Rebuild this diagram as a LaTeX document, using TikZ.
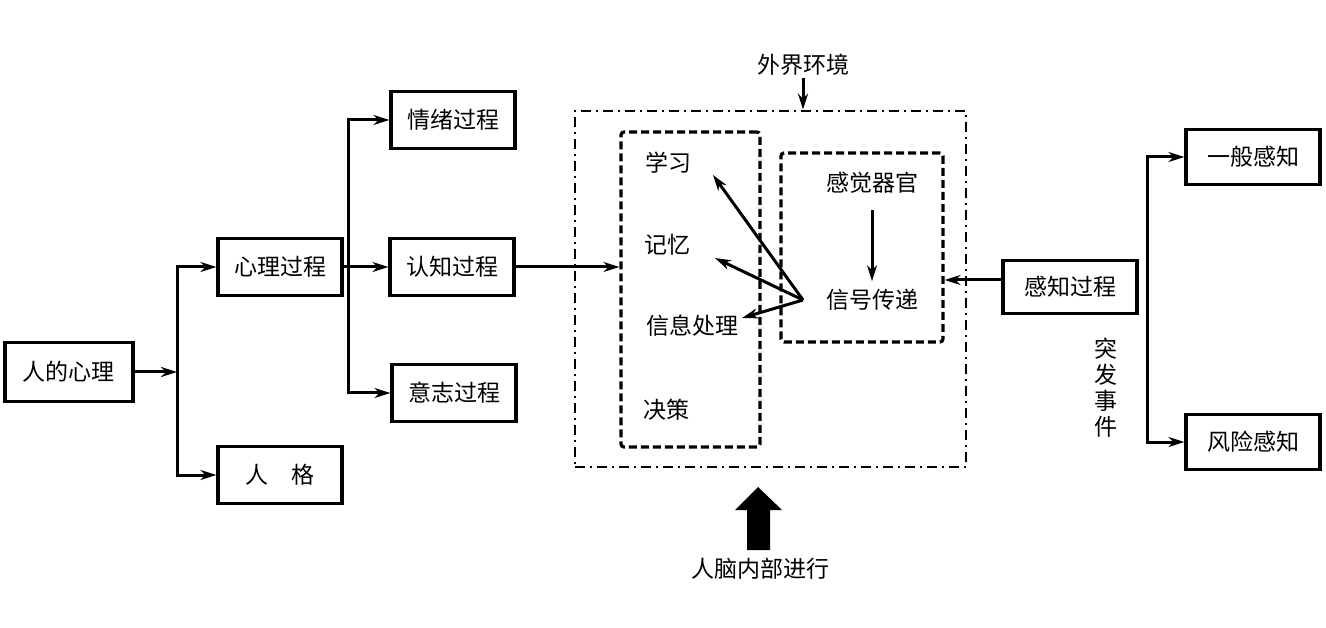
\documentclass[tikz,border=0pt]{standalone}
\usepackage{fontspec}
\newfontfamily\cjk{Noto Sans CJK SC}
\usetikzlibrary{arrows.meta}
\begin{document}
\begin{tikzpicture}[x=1pt,y=-1pt,
  font=\cjk\fontsize{23}{26}\selectfont,
  box/.style={draw, line width=3.2pt, minimum width=124pt, minimum height=57pt, inner sep=0pt},
  arr/.style={line width=3pt, -{Stealth[length=16pt,width=10pt]}},
  ln/.style={line width=3pt},
  dbox/.style={draw, line width=3.2pt, dash pattern=on 8pt off 4pt, rounded corners=3pt, inner sep=0pt},
  ddbox/.style={draw, line width=2.8pt, dash pattern=on 10pt off 5pt on 2pt off 5pt, inner sep=0pt},
  lbl/.style={inner sep=2pt}]
\useasboundingbox (0,0) rectangle (1326,628);

% left tree
\node[box, minimum width=128pt, minimum height=59pt] (rx) at (69,372) {人的心理};
\node[box] (xl) at (280,267) {心理过程};
\node[box] (rg) at (280,475) {人\hspace{1em}格};
\node[box] (qx) at (453,120) {情绪过程};
\node[box] (rz) at (452,267) {认知过程};
\node[box] (yz) at (454,393) {意志过程};

\coordinate (j1) at (177,372);
\coordinate (j2) at (348,267);
\draw[arr] (rx.east) -- (j1);
\draw[arr] (j1) |- (xl.west);
\draw[arr] (j1) |- (rg.west);
\draw[ln] (xl.east) -- (j2);
\draw[arr] (j2) |- (qx.west);
\draw[arr] (j2) -- (rz.west);
\draw[arr] (j2) |- (yz.west);

% central boxes
\node[ddbox, minimum width=391pt, minimum height=356pt] (outer) at (770.5,289) {};
\node[dbox, minimum width=139pt, minimum height=315pt] (lb) at (690.5,289.5) {};
\node[dbox, minimum width=162pt, minimum height=189pt] (rb) at (862,247.5) {};

\node[lbl] (wj) at (803,65) {外界环境};
\draw[arr] (wj.south) -- (wj.south |- outer.north);

\draw[arr] (rz.east) -- (rz.east -| lb.west);

\node[lbl] (xx) at (668,163) {学习};
\node[lbl] (jy) at (667,245) {记忆};
\node[lbl] (xc) at (692,326) {信息处理};
\node[lbl] (jc) at (666,410) {决策};
\node[lbl] (gg) at (872,183) {感觉器官};
\node[lbl] (xh) at (872,300) {信号传递};

\draw[arr] (gg.south) ++(0,14) coordinate (gs) (gs) -- ([yshift=6pt]xh.north);

\coordinate (src) at (803,300);
\coordinate (t1) at (713,175);
\coordinate (t2) at (715,258);
\coordinate (t3) at (742,318);
\draw[arr] (src) -- (t1);
\draw[arr] (src) -- (t2);
\draw[arr] (src) -- (t3);

% right side
\node[box, minimum width=134pt, minimum height=53pt] (gz) at (1070,287) {感知过程};
\node[box, minimum width=134pt, minimum height=55pt] (yb) at (1253,157) {一般感知};
\node[box, minimum width=134pt, minimum height=55pt] (fx) at (1253,442) {风险感知};
\draw[arr] ([yshift=7pt]gz.west) -- ([yshift=7pt]gz.west -| rb.east);

\coordinate (j3) at (1147,300);
\draw[arr] (j3) |- (yb.west);
\draw[arr] (j3) |- (fx.west);

\node[align=center, inner sep=0pt] (tf) at (1106,388) {突\\发\\事\\件};

% big arrow
\fill (747,550) -- (747,510) -- (735,510) -- (758,487) -- (782,510) -- (770,510) -- (770,550) -- cycle;
\node[lbl] (rn) at (760,569) {人脑内部进行};
\end{tikzpicture}
\end{document}
